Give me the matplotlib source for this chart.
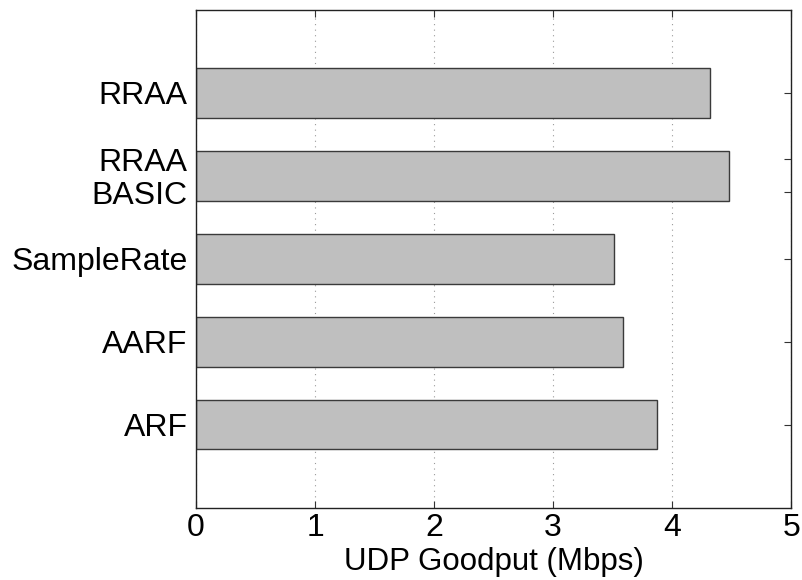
import matplotlib
matplotlib.use('Agg')
import matplotlib.pyplot as plt

# bar data (bottom to top)
schemes = ['ARF', 'AARF', 'SampleRate', 'RRAA BASIC', 'RRAA']
goodput = [3.87, 3.59, 3.51, 4.48, 4.32]
bar_pos = [1, 2, 3, 4, 5]

# y tick labels; "RRAA BASIC" is split over two ticks
tick_pos = [1, 2, 3, 3.8, 4.2, 5]
tick_labels = ['ARF', 'AARF', 'SampleRate', 'BASIC', 'RRAA', 'RRAA']

plt.rcParams['font.family'] = ['Liberation Sans', 'DejaVu Sans']

fig = plt.figure(figsize=(8.02, 5.80), dpi=100)
ax = fig.add_axes([0.2445, 0.125, 0.742, 0.858])

ax.barh(bar_pos, goodput, height=0.6, color='#bfbfbf',
        edgecolor='#3a3a3a', linewidth=1.0, zorder=2)

ax.set_xlim(0, 5)
ax.set_ylim(0, 6)
ax.set_xticks(range(6))
ax.set_yticks(tick_pos)
ax.set_yticklabels(tick_labels)

ax.xaxis.grid(True, linestyle=(0, (1, 4)), color='#999999', linewidth=0.8, zorder=1)
ax.tick_params(direction='in', top=True, right=True, length=5,
               width=0.8, color='#333333', labelsize=23)
ax.tick_params(axis='x', pad=4)
ax.tick_params(axis='y', pad=6)
for s in ax.spines.values():
    s.set_linewidth(1.0)
    s.set_color('#222222')

ax.set_xlabel('UDP Goodput (Mbps)', fontsize=22.5, labelpad=3)

fig.savefig('out.png', dpi=100)
